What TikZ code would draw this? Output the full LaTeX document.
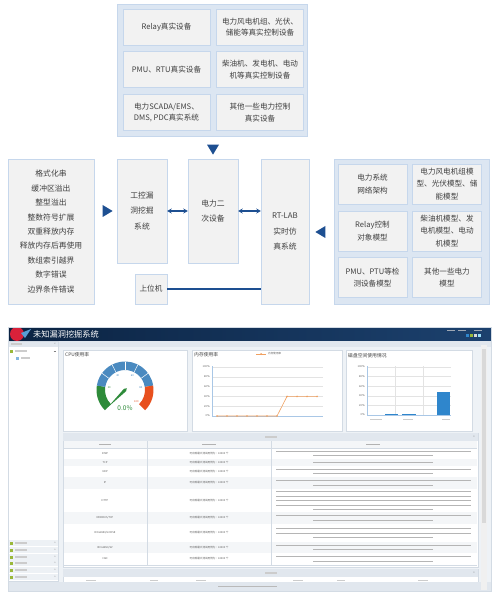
\documentclass[tikz,border=0pt]{standalone}
\usepackage{fontspec}
\setmainfont{Noto Sans CJK SC}
\usetikzlibrary{shapes.geometric, arrows.meta, positioning}

\definecolor{panelblue}{HTML}{DCE6F2}
\definecolor{cellfill}{HTML}{F2F2F2}
\definecolor{cellline}{HTML}{C6D7EC}
\definecolor{arrowblue}{HTML}{1D4F91}
\definecolor{txt}{HTML}{404040}
\definecolor{hdrdark}{HTML}{0B2342}
\definecolor{hdrlight}{HTML}{1C416E}
\definecolor{shotbg}{HTML}{EEF2F6}
\definecolor{stripgray}{HTML}{E1E7EE}
\definecolor{frameline}{HTML}{D3DBE4}
\definecolor{rowgray}{HTML}{F4F6F8}
\definecolor{gaugegreen}{HTML}{2E8B3A}
\definecolor{gaugeblue}{HTML}{4A8AC0}
\definecolor{gaugered}{HTML}{E8501E}
\definecolor{memorange}{HTML}{F0A060}
\definecolor{barblue}{HTML}{2F86CC}
\definecolor{axisblue}{HTML}{A9C7E6}
\definecolor{logored}{HTML}{D9213A}
\definecolor{foldergreen}{HTML}{9AB83A}

\newcommand\diagfont{\fontsize{7.6}{11.7}\selectfont}
\newcommand\modelfont{\fontsize{7.6}{12.6}\selectfont}
\newcommand\tallfont{\fontsize{7.8}{15.2}\selectfont}
\newcommand\listfont{\fontsize{7.8}{14.4}\selectfont}
\newcommand\paneltitlefont{\fontsize{4.8}{5}\selectfont}
\newcommand\shotfont{\fontsize{2.6}{3}\selectfont}

\begin{document}
\begin{tikzpicture}[x=1pt, y=-1pt,
  panel/.style     = {rectangle, draw=cellline, fill=panelblue, inner sep=0pt},
  cell/.style      = {rectangle, draw=cellline, fill=cellfill, text=txt,
                      align=center, inner sep=1pt},
  realcell/.style  = {cell, minimum width=87pt, minimum height=36pt, font=\diagfont},
  modelcell/.style = {cell, minimum width=69pt, minimum height=40pt, font=\modelfont},
  tallbox/.style   = {cell, minimum width=50pt, minimum height=104pt, font=\tallfont},
  pointer/.style   = {isosceles triangle, isosceles triangle stretches,
                      fill=arrowblue, inner sep=0pt, minimum width=12pt,
                      minimum height=10pt},
  link/.style      = {{Stealth[length=4.5pt,width=5pt]}-{Stealth[length=4.5pt,width=5pt]},
                      line width=1.3pt, arrowblue},
  wire/.style      = {line width=1.3pt, arrowblue},
  box/.style       = {fill=white, draw=frameline, line width=0.4pt},
  greek/.style     = {line width=1.1pt, gray!40},
  desc/.style      = {line width=0.8pt, gray!58},
  mini/.style      = {font=\shotfont, text=gray!70!black, inner sep=0pt},
  chartgrid/.style = {draw=gray!22, line width=0.3pt}
]
\useasboundingbox (0,0) rectangle (491,593);
\fill[white] (0,0) rectangle (491,593);

% real devices
\node[panel, minimum width=190pt, minimum height=132pt] (realpanel) at (212,70) {};
\node[realcell] (relayreal)  at (166.5,27)   {Relay真实设备};
\node[realcell] (windreal)   at (260,27)     {电力风电机组、光伏、\\储能等真实控制设备};
\node[realcell] (pmureal)    at (166.5,69.5) {PMU、RTU真实设备};
\node[realcell] (dieselreal) at (260,69.5)   {柴油机、发电机、电动\\机等真实控制设备};
\node[realcell] (scadareal)  at (166.5,112.5){电力SCADA/EMS、\\DMS, PDC真实系统};
\node[realcell] (otherreal)  at (260,112.5)  {其他一些电力控制\\真实设备};
\node[pointer, shape border rotate=-90] (downtip) at (213,148) {};

% middle row
\node[cell, minimum width=86pt, minimum height=145pt, font=\listfont] (vulns) at (51,231.5)
  {格式化串\\缓冲区溢出\\整型溢出\\整数符号扩展\\双重释放内存\\释放内存后再使用\\数组索引越界\\数字错误\\边界条件错误};
\node[pointer] (righttip) at (106,211) {};
\node[tallbox] (fuzzer)    at (142,211) {工控漏\\洞挖掘\\系统};
\node[tallbox] (secondary) at (213,211) {电力二\\次设备};
\node[tallbox, minimum width=48pt, minimum height=145pt] (rtlab) at (285,231.5) {RT-LAB\\实时仿\\真系统};
\node[cell, minimum width=32pt, minimum height=30pt, font=\diagfont] (host) at (151,289) {上位机};
\node[pointer, shape border rotate=180] (lefttip) at (322,232) {};

% models
\node[panel, minimum width=155pt, minimum height=145pt] (modelpanel) at (411.5,231.5) {};
\node[modelcell] (netmodel)    at (372.5,184)   {电力系统\\网络架构};
\node[modelcell] (windmodel)   at (447,184)     {电力风电机组模\\型、光伏模型、储\\能模型};
\node[modelcell] (relaymodel)  at (372.5,231)   {Relay控制\\对象模型};
\node[modelcell] (dieselmodel) at (447,231)     {柴油机模型、发\\电机模型、电动\\机模型};
\node[modelcell] (pmumodel)    at (372.5,277.5) {PMU、PTU等检\\测设备模型};
\node[modelcell] (othermodel)  at (447,277.5)   {其他一些电力\\模型};

\draw[link] (fuzzer) -- (secondary);
\draw[link] (secondary.east) -- (secondary.east -| rtlab.west);
\draw[wire] (host) -- (host -| rtlab.west);

% screenshot
\fill[shotbg] (8,327) rectangle (491,591);
\shade[left color=hdrdark, right color=hdrlight] (8,327) rectangle (491,341);
\fill[logored] (17,334) circle (7);
\fill[barblue!80] (21,333) -- (31,329) -- (25,338) -- cycle;
\node[anchor=west, text=white, font=\fontsize{8.2}{9}\selectfont, inner sep=0pt] (apptitle) at (33,334) {未知漏洞挖掘系统};
\foreach \x in {447,458,474} \draw[line width=0.8pt, white!60!hdrdark] (\x,330) -- ++(8,0);
\foreach \x/\c in {466/barblue,470/foldergreen,474/gray!30,478/cyan!40} \fill[\c] (\x,334) rectangle ++(3,3);
\fill[stripgray] (8,341) rectangle (491,347);

% sidebar
\fill[white] (8,347) rectangle (58,581);
\draw[frameline] (8,341) rectangle (58,581);
\draw[greek] (11,344) -- (22,344);
\node[mini] (collapse) at (55,344) {«};
\fill[foldergreen] (10,349.5) rectangle (13,352.5);
\draw[greek] (15,351) -- (27,351);
\draw[gray] (53.5,351) -- (56,351);
\fill[barblue!60] (16,356.5) rectangle (19,359.5);
\draw[greek] (21,358) -- (30,358);
\foreach \y in {543,550,557,563,570,577}{
  \fill[stripgray!60] (8,\y-3) rectangle (58,\y+3);
  \draw[white] (8,\y+3) -- (58,\y+3);
  \fill[foldergreen] (10,\y-1.5) rectangle (13,\y+1.5);
  \draw[greek] (15,\y) -- (27,\y);
  \node[mini] (menu\y) at (55,\y) {»};
}

% charts
\draw[box] (63,350) rectangle (187,431);
\draw[box] (192,350) rectangle (342,431);
\draw[box] (346,350) rectangle (472,431);
\node[anchor=west, font=\paneltitlefont, text=txt, inner sep=0pt] (cputitle)  at (65,355)  {CPU使用率};
\node[anchor=west, font=\paneltitlefont, text=txt, inner sep=0pt] (memtitle)  at (194,355) {内存使用率};
\node[anchor=west, font=\paneltitlefont, text=txt, inner sep=0pt] (disktitle) at (348,356) {磁盘空间使用情况};

\begin{scope}[shift={(125,390)}, yscale=-1]
  \fill[gaugegreen] (225:20) arc (225:171:20) -- (171:28.5) arc (171:225:28.5) -- cycle;
  \fill[gaugeblue]  (171:20) arc (171:9:20)   -- (9:28.5)   arc (9:171:28.5)   -- cycle;
  \fill[gaugered]   (9:20)   arc (9:-45:20)   -- (-45:28.5) arc (-45:9:28.5)   -- cycle;
  \foreach \a in {144,117,90,63,36} \draw[white, line width=0.5pt] (\a:20) -- (\a:28.5);
  \fill[gaugegreen] (225:24) -- (135:1.6) -- (45:2.5) -- (315:1.6) -- cycle;
  \node[mini, text=gaugegreen] (tick20)  at (171:16) {20};
  \node[mini, text=gaugeblue]  (tick40)  at (117:16) {40};
  \node[mini, text=gaugeblue]  (tick60)  at (63:16)  {60};
  \node[mini, text=gaugeblue]  (tick80)  at (9:16)   {80};
  \node[mini, text=gaugered]   (tick100) at (-45:16) {100};
\end{scope}
\node[font=\fontsize{6.5}{7}\selectfont, text=gaugegreen, inner sep=0pt] (cpuvalue) at (125,408) {0.0\%};

\foreach \v in {0,20,...,100}{
  \draw[chartgrid] (212,416-\v*0.49) -- (323,416-\v*0.49);
  \node[mini, anchor=east] (memtick\v) at (210,416-\v*0.49) {\v\,\%};
}
\draw[axisblue, line width=0.6pt] (212,366) -- (212,416) -- (323,416);
\draw[memorange, line width=0.6pt] (217,416) -- (277,416) -- (287,396.4) -- (317,396.4);
\foreach \x in {217,227,...,277} \fill[memorange] (\x,416) circle (0.9);
\foreach \x in {287,297,...,317} \fill[memorange] (\x,396.4) circle (0.9);
\draw[memorange, line width=0.6pt] (256,354) -- (266,354);
\fill[memorange] (261,354) circle (1);
\node[mini, anchor=west] (memlegend) at (268,354) {内存使用率};

\foreach \v in {0,20,...,100}{
  \draw[chartgrid] (367,415-\v*0.48) -- (451,415-\v*0.48);
  \node[mini, anchor=east] (disktick\v) at (365,415-\v*0.48) {\v\,\%};
}
\draw[chartgrid] (395,366) -- (395,415);
\draw[chartgrid] (423,366) -- (423,415);
\draw[axisblue, line width=0.6pt] (367,366) -- (367,415) -- (451,415);
\fill[barblue] (385,413.8) rectangle (398,415);
\fill[barblue] (402,413.8) rectangle (416,415);
\fill[barblue] (437,391.5) rectangle (450,415);
\foreach \a/\b in {370/382,403/413,442/450} \draw[greek, line width=0.8pt] (\a,419.5) -- (\b,419.5);

% table
\draw[box] (63,433) rectangle (478,567);
\fill[stripgray] (63.3,433.3) rectangle (477.7,441);
\draw[greek] (265,437) -- (277,437);
\node[mini] (tableplus) at (474,437) {+};
\fill[rowgray] (64,441) rectangle (477,448);
\foreach \a/\b in {99/111,202/216,366/380} \draw[greek, gray!60] (\a,444.5) -- (\b,444.5);
\foreach \ya/\yb/\nl/\proto/\odd in {448/459/2/ICMP/0, 459/466/1/TCP/1, 466/477/2/UDP/0,
    477/489/2/IP/1, 489/512/5/HTTP/0, 512/524/2/{MODBUS/TCP}/1, 524/542/3/{IEC61850/GOOSE}/0,
    542/553/2/{IEC61850/SV}/1, 553/565/2/CAN/0}{
  \pgfmathsetmacro\yc{(\ya+\yb)/2}
  \ifnum\odd=1 \fill[rowgray] (64,\ya) rectangle (477,\yb); \fi
  \node[mini] (proto\ya) at (105,\yc) {\proto};
  \node[mini] (count\ya) at (209,\yc) {可出现最大测试用例为：10000 个};
  \foreach \i in {1,...,\nl}{
    \pgfmathsetmacro\ly{\yc+(\i-(\nl+1)/2)*4.6}
    \ifnum\i<\nl \draw[desc] (276,\ly) -- (471,\ly);
    \else \draw[desc] (313,\ly) -- (433,\ly); \fi
  }
}
\draw[frameline] (147,441) -- (147,565);
\draw[frameline] (271,441) -- (271,565);
\draw[frameline] (64,448) -- (477,448);
\draw[frameline] (64,565) -- (477,565);

% statistics strip and footer
\draw[box] (63,569) rectangle (478,582);
\fill[stripgray] (63.3,569.3) rectangle (477.7,577);
\draw[greek] (265,573) -- (277,573);
\node[mini] (statplus) at (474,573) {+};
\foreach \a/\b in {86/96,150/158,196/206,293/303,337/345,418/428} \draw[greek, line width=0.8pt] (\a,580) -- (\b,580);
\fill[stripgray] (8,582) rectangle (491,591);
\draw[greek, gray!55] (218,586.5) -- (277,586.5);
\fill[gray!12] (481,345) rectangle (487,590);
\fill[gray!30] (481.8,349) rectangle (486.2,523);
\draw[frameline] (8,327) rectangle (491,591);
\end{tikzpicture}
\end{document}
